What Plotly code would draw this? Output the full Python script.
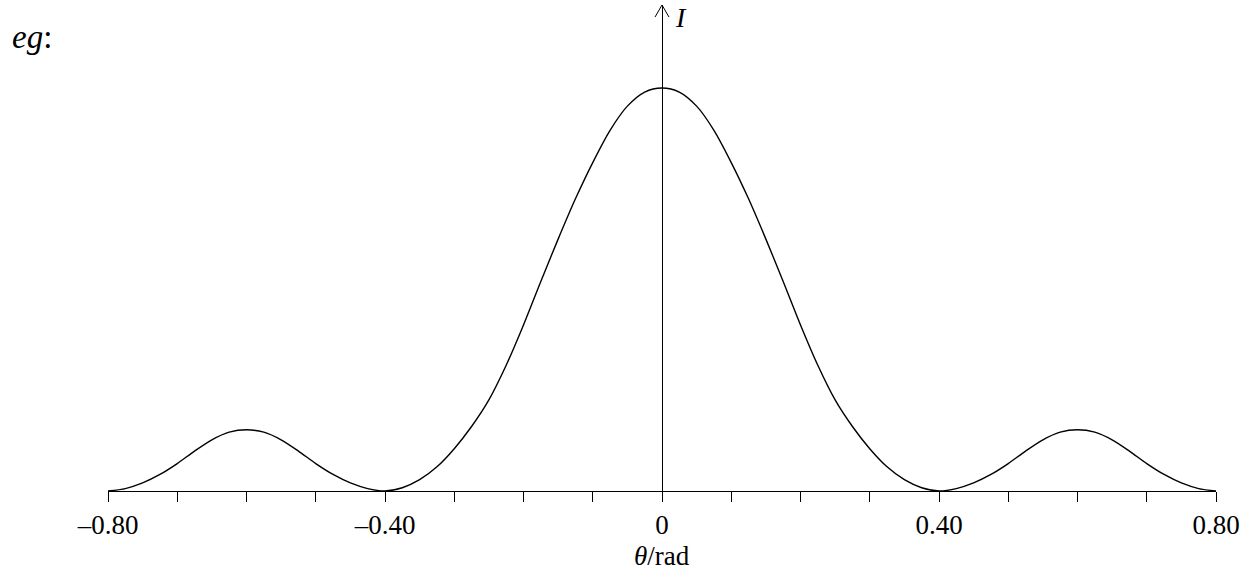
"""
Single-slit diffraction intensity sketch: I against theta.
"""

import plotly.graph_objects as go

# angle (rad) and relative intensity
theta = [
    -0.800, -0.775, -0.750, -0.725, -0.700, -0.675, -0.650, -0.625, -0.600,
    -0.575, -0.550, -0.525, -0.500, -0.475, -0.450, -0.425, -0.400,
    -0.375, -0.350, -0.325, -0.300, -0.275, -0.250, -0.225, -0.200,
    -0.175, -0.150, -0.125, -0.100, -0.075, -0.050, -0.025, 0.000,
    0.025, 0.050, 0.075, 0.100, 0.125, 0.150, 0.175, 0.200,
    0.225, 0.250, 0.275, 0.300, 0.325, 0.350, 0.375, 0.400,
    0.425, 0.450, 0.475, 0.500, 0.525, 0.550, 0.575, 0.600,
    0.625, 0.650, 0.675, 0.700, 0.725, 0.750, 0.775, 0.800,
]
intensity = [
    0.000, 0.006, 0.020, 0.041, 0.068, 0.099, 0.127, 0.146, 0.152,
    0.146, 0.127, 0.099, 0.068, 0.041, 0.020, 0.006, 0.000,
    0.008, 0.028, 0.060, 0.105, 0.160, 0.226, 0.312, 0.412,
    0.520, 0.625, 0.725, 0.815, 0.895, 0.955, 0.990, 1.000,
    0.990, 0.955, 0.895, 0.815, 0.725, 0.625, 0.520, 0.412,
    0.312, 0.226, 0.160, 0.105, 0.060, 0.028, 0.008, 0.000,
    0.006, 0.020, 0.041, 0.068, 0.099, 0.127, 0.146, 0.152,
    0.146, 0.127, 0.099, 0.068, 0.041, 0.020, 0.006, 0.000,
]

tick_vals = [-0.8, -0.7, -0.6, -0.5, -0.4, -0.3, -0.2, -0.1, 0.0,
             0.1, 0.2, 0.3, 0.4, 0.5, 0.6, 0.7, 0.8]
tick_text = ['\u20130.80', '', '', '', '\u20130.40', '', '', '', '0',
             '', '', '', '0.40', '', '', '', '0.80']

SERIF = 'Liberation Serif, Times New Roman, serif'
Y_TOP = 486 / 403  # leaves room above the peak for the I arrow

fig = go.Figure()

fig.add_trace(go.Scatter(
    x=theta,
    y=intensity,
    mode='lines',
    line=dict(color='black', width=1.4, shape='spline', smoothing=0.8),
    hoverinfo='skip',
    showlegend=False,
))

# open arrowhead on the I axis
ax_dx, ax_dy = 0.0101, 0.030
fig.add_shape(type='line', x0=-ax_dx, y0=Y_TOP - ax_dy, x1=0, y1=Y_TOP,
              line=dict(color='black', width=1))
fig.add_shape(type='line', x0=ax_dx, y0=Y_TOP - ax_dy, x1=0, y1=Y_TOP,
              line=dict(color='black', width=1))

fig.add_annotation(x=0.027, y=Y_TOP - 0.03, text='<i>I</i>', showarrow=False,
                   xanchor='center', yanchor='middle',
                   font=dict(family=SERIF, size=28, color='black'))
fig.add_annotation(x=0.5, y=-0.134, xref='x domain', yref='paper',
                   text='<i>θ</i>/rad', showarrow=False,
                   xanchor='center', yanchor='middle',
                   font=dict(family=SERIF, size=27, color='black'))
fig.add_annotation(x=-0.088, y=0.935, xref='x domain', yref='paper',
                   text='<i>eg</i>:', showarrow=False,
                   xanchor='left', yanchor='middle',
                   font=dict(family=SERIF, size=33, color='black'))

fig.update_layout(
    width=1254,
    height=572,
    margin=dict(l=108, r=38, t=5, b=81),
    paper_bgcolor='white',
    plot_bgcolor='white',
    xaxis=dict(
        range=[-0.8, 0.8],
        tickvals=tick_vals,
        ticktext=tick_text,
        ticks='outside',
        ticklen=10,
        tickwidth=1,
        tickcolor='black',
        showline=True,
        linecolor='black',
        linewidth=1,
        showgrid=False,
        zeroline=True,
        zerolinecolor='black',
        zerolinewidth=1,
        tickfont=dict(family=SERIF, size=27, color='black'),
    ),
    yaxis=dict(
        range=[0, Y_TOP],
        visible=False,
        showgrid=False,
        zeroline=False,
    ),
)

# drop the browser's default page margin so the figure sits at the corner
fig.write_html(
    "out.html",
    config={'displayModeBar': False},
    post_script="document.body.style.margin='0';",
)
